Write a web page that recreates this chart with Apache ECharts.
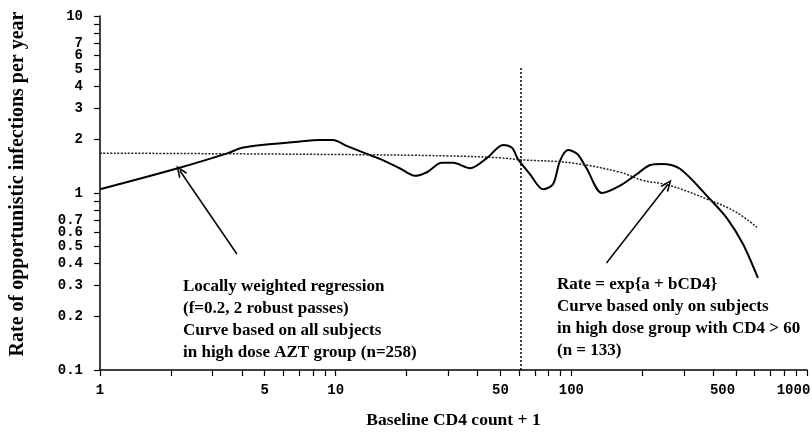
<!DOCTYPE html>
<html>
<head>
<meta charset="utf-8">
<script src="https://cdn.jsdelivr.net/npm/echarts@6/dist/echarts.min.js"></script>
<style>
  html, body { margin: 0; padding: 0; background: #fff; }
  #chart { width: 812px; height: 432px; }
</style>
</head>
<body>
<div id="chart"></div>
<script>
// loess curve (f=0.2, 2 robust passes)
const loessX = [1, 2.14, 3.49, 4.0, 4.87, 6.72, 8.58, 9.74, 11.2, 13.3, 15.4, 18.7, 21.7, 24.4, 28.2, 31.5,
  37.2, 43.9, 51.3, 56.0, 59.3, 66.7, 75.8, 83.6, 89.5, 96.8, 106, 116, 135, 161, 190, 216, 242, 289, 387, 457, 535, 619]
const loessY = [1.05, 1.38, 1.68, 1.80, 1.87, 1.94, 1.99, 1.99, 1.84, 1.68, 1.56, 1.38, 1.25, 1.31, 1.48, 1.48,
  1.38, 1.58, 1.87, 1.80, 1.56, 1.28, 1.05, 1.12, 1.52, 1.75, 1.66, 1.38, 1.00, 1.10, 1.28, 1.44, 1.46, 1.37, 0.925, 0.722, 0.515, 0.331]

// exp{a + bCD4} fit
const expX = [1, 10, 30, 50, 61, 100, 161, 200, 257, 387, 500, 613]
const expY = [1.68, 1.65, 1.62, 1.58, 1.54, 1.48, 1.31, 1.18, 1.11, 0.91, 0.78, 0.64]

// CD4 > 60 cut-off
const cutX = 61
const cutTop = 5.2

// arrows: [tailX, tailY, tipX, tipY]
const arrowLoess = [3.81, 0.452, 2.18, 1.34]
const arrowExp = [141, 0.402, 257, 1.12]

const xTicks = [1, 2, 3, 4, 5, 6, 7, 8, 9, 10, 20, 30, 40, 50, 60, 70, 80, 90, 100, 200, 300, 400, 500, 600, 700, 800, 900, 1000]
const xLabels = [1, 5, 10, 50, 100, 500, 1000]
const yTicks = [0.1, 0.2, 0.3, 0.4, 0.5, 0.6, 0.7, 0.8, 0.9, 1, 2, 3, 4, 5, 6, 7, 8, 9, 10]
const yLabels = [0.1, 0.2, 0.3, 0.4, 0.5, 0.6, 0.7, 1, 2, 3, 4, 5, 6, 7, 10]

const leftNote = ['Locally weighted regression', '(f=0.2, 2 robust passes)', 'Curve based on all subjects', 'in high dose AZT group (n=258)']
const rightNote = ['Rate = exp{a + bCD4}', 'Curve based only on subjects', 'in high dose group with CD4 > 60', '(n = 133)']

const serif = '"Liberation Serif", "DejaVu Serif", serif'
const mono = '"Liberation Mono", "DejaVu Sans Mono", monospace'
const openArrow = 'path://M5,0 L10,11 L8.2,11 L5,3.5 L1.8,11 L0,11 Z'
const tickFont = { fontFamily: mono, fontWeight: 'bold', fontSize: 14, color: '#000' }

const chart = echarts.init(document.getElementById('chart'))

const arrowLine = a => [
  { coord: [a[0], a[1]], symbol: 'none' },
  { coord: [a[2], a[3]], symbol: openArrow, symbolSize: [10, 12] }
]

chart.setOption({
  animation: false,
  backgroundColor: '#fff',
  grid: { left: 100, right: 5, top: 16, bottom: 62, outerBoundsMode: 'none' },
  xAxis: {
    type: 'log',
    logBase: 10,
    min: 1,
    max: 1000,
    name: 'Baseline CD4 count + 1',
    nameLocation: 'middle',
    nameGap: 41,
    nameTextStyle: { fontFamily: serif, fontWeight: 'bold', fontSize: 17.5, color: '#000' },
    axisLine: { lineStyle: { color: '#000', width: 1.5 } },
    axisTick: { customValues: xTicks, length: 6, lineStyle: { color: '#000', width: 1.2 } },
    axisLabel: {
      customValues: xLabels,
      margin: 13,
      ...tickFont,
      // the last two labels sit a little left of their ticks
      formatter: v => v >= 500 ? `{l|${Math.round(v)}}` : String(Math.round(v)),
      rich: { l: { ...tickFont, padding: [0, 27, 0, 0] } }
    },
    splitLine: { show: false }
  },
  yAxis: {
    type: 'log',
    logBase: 10,
    min: 0.1,
    max: 10,
    name: 'Rate of opportunistic infections per year',
    nameLocation: 'middle',
    nameGap: 72,
    nameTextStyle: { fontFamily: serif, fontWeight: 'bold', fontSize: 20, color: '#000', padding: [0, 0, 0, 18] },
    axisLine: { show: true, lineStyle: { color: '#000', width: 1.5 } },
    axisTick: { show: true, customValues: yTicks, length: 6, lineStyle: { color: '#000', width: 1.2 } },
    axisLabel: {
      customValues: yLabels,
      margin: 17,
      ...tickFont,
      formatter: v => String(Math.round(v * 10) / 10)
    },
    splitLine: { show: false }
  },
  series: [
    {
      name: 'loess',
      type: 'line',
      data: loessX.map((x, i) => [x, loessY[i]]),
      smooth: 0.3,
      symbol: 'none',
      lineStyle: { color: '#000', width: 2 },
      markLine: {
        silent: true,
        label: { show: false },
        lineStyle: { color: '#000', width: 1.5, type: 'solid' },
        data: [arrowLine(arrowLoess), arrowLine(arrowExp)]
      }
    },
    {
      name: 'exp',
      type: 'line',
      data: expX.map((x, i) => [x, expY[i]]),
      smooth: 0.4,
      symbol: 'none',
      lineStyle: { color: '#222', width: 1.5, type: [2, 1.5] },
      markLine: {
        silent: true,
        symbol: 'none',
        label: { show: false },
        lineStyle: { color: '#000', width: 1.5, type: [2, 2] },
        data: [[{ coord: [cutX, 0.1] }, { coord: [cutX, cutTop] }]]
      }
    }
  ],
  graphic: [
    {
      type: 'text', left: 183, top: 276,
      style: { text: leftNote.join('\n'), font: `bold 17px ${serif}`, lineHeight: 22, fill: '#000' }
    },
    {
      type: 'text', left: 557, top: 274,
      style: { text: rightNote.join('\n'), font: `bold 17px ${serif}`, lineHeight: 22, fill: '#000' }
    }
  ]
})

window.addEventListener('resize', () => chart.resize())
</script>
</body>
</html>
